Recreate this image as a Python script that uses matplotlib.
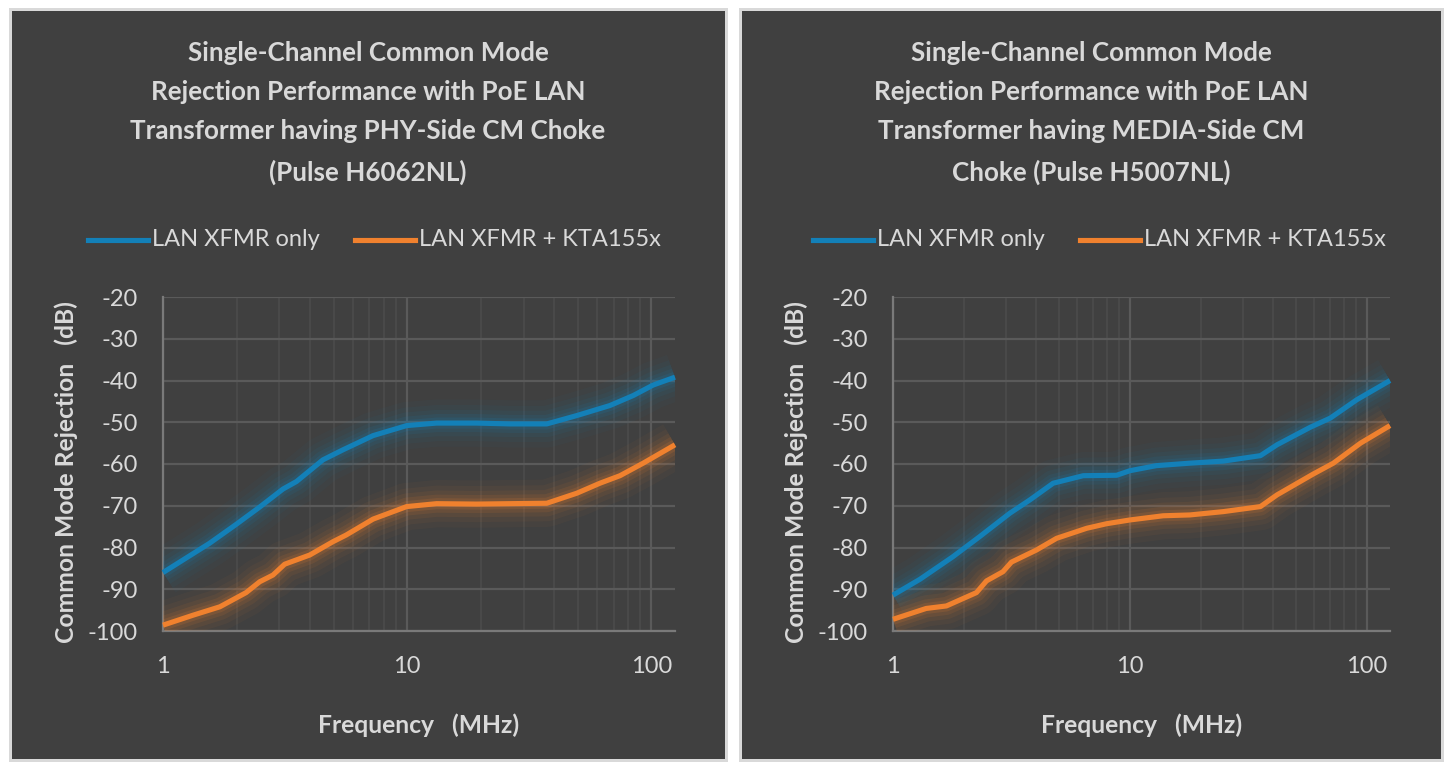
import matplotlib
matplotlib.use("Agg")
import matplotlib.pyplot as plt
from matplotlib.patches import Rectangle
from matplotlib.lines import Line2D
import numpy as np

# ---------------- data ----------------
left_title = "Single-Channel Common Mode\nRejection Performance with PoE LAN\nTransformer having PHY-Side CM Choke\n(Pulse H6062NL)"
right_title = "Single-Channel Common Mode\nRejection Performance with PoE LAN\nTransformer having MEDIA-Side CM\nChoke (Pulse H5007NL)"
series_names = ["LAN XFMR only", "LAN XFMR + KTA155x"]
x_label = "Frequency   (MHz)"
y_label = "Common Mode Rejection   (dB)"
y_ticks = [-100, -90, -80, -70, -60, -50, -40, -30, -20]
x_ticks = [1, 10, 100]

left_blue_f = [1.0, 1.55, 2.0, 2.49, 3.10, 3.52, 4.52, 5.46, 7.25, 9.95, 13.2, 19.2, 26.4, 37.3, 49.5, 67.6, 84.3, 101.6, 125]
left_blue_db = [-86.0, -79.0, -74.4, -70.3, -66.0, -64.2, -59.0, -56.6, -53.2, -50.8, -50.2, -50.2, -50.4, -50.4, -48.4, -46.0, -43.6, -41.1, -39.2]

left_orange_f = [1.0, 1.33, 1.71, 2.19, 2.49, 2.82, 3.15, 3.99, 4.97, 5.63, 7.25, 9.95, 13.2, 19.2, 26.4, 37.3, 49.5, 61.6, 74.4, 92.6, 125]
left_orange_db = [-98.6, -96.2, -94.2, -90.8, -88.2, -86.6, -84.0, -81.8, -78.6, -77.0, -73.2, -70.2, -69.5, -69.6, -69.5, -69.4, -67.0, -64.6, -62.8, -59.8, -55.4]

right_blue_f = [1.0, 1.30, 1.79, 2.32, 3.11, 3.78, 4.74, 6.35, 8.78, 10.0, 12.9, 17.9, 24.8, 35.5, 41.7, 57.6, 70.0, 90.6, 125]
right_blue_db = [-91.4, -87.6, -82.2, -77.4, -71.8, -68.6, -64.6, -62.8, -62.7, -61.6, -60.4, -59.8, -59.3, -58.0, -55.4, -51.2, -49.0, -44.6, -40.0]

right_orange_f = [1.0, 1.38, 1.68, 2.25, 2.48, 2.91, 3.16, 4.03, 4.90, 6.56, 7.97, 10.0, 13.8, 17.9, 24.8, 35.5, 41.7, 59.3, 72.1, 93.9, 125]
right_orange_db = [-97.2, -94.6, -94.0, -90.8, -88.0, -85.8, -83.5, -80.6, -77.8, -75.4, -74.3, -73.4, -72.4, -72.2, -71.4, -70.2, -67.4, -62.4, -59.8, -55.0, -50.8]

# ---------------- style ----------------
W, H = 1453, 771
BG = "#404040"
BORDER = "#d9d9d9"
TXT = "#d9d9d9"
GRID = "#5a5a5a"
MINOR = "#4b4b4b"
BLUE = "#1380b8"
ORANGE = "#f0812e"
FONT = ["Lato", "DejaVu Sans"]

plt.rcParams["font.family"] = FONT
fig = plt.figure(figsize=(W / 100, H / 100), dpi=100, facecolor="white")


def px_rect(x0, y0, x1, y1, color):
    fig.patches.append(Rectangle((x0 / W, 1 - y1 / H), (x1 - x0) / W, (y1 - y0) / H,
                                 transform=fig.transFigure, facecolor=color,
                                 edgecolor="none", zorder=-10))


# panels
px_rect(9, 8, 728, 762, BORDER)
px_rect(12, 11, 725, 759, BG)
px_rect(739, 8, 1444, 762, BORDER)
px_rect(742, 11, 1441, 759, BG)


def draw_glow(ax, f, db, color):
    for lw, a in [(34, 0.04), (26, 0.05), (19, 0.07), (13, 0.10), (8, 0.14)]:
        ax.plot(f, db, color=color, lw=lw, alpha=a, solid_capstyle="butt",
                solid_joinstyle="round", zorder=3, clip_on=True)
    ax.plot(f, db, color=color, lw=3.7, solid_capstyle="butt",
            solid_joinstyle="round", zorder=4, clip_on=False)


def make_panel(ax_px, title, title_cx, legend_x, bf, bdb, of, odb):
    x0, x1, y0, y1 = ax_px
    ax = fig.add_axes([x0 / W, 1 - y1 / H, (x1 - x0) / W, (y1 - y0) / H])
    ax.set_facecolor("none")
    ax.set_xscale("log")
    ax.set_xlim(1, 125)
    ax.set_ylim(-100, -20)
    ax.set_yticks(y_ticks)
    ax.set_yticklabels([str(v) for v in y_ticks])
    ax.set_xticks(x_ticks)
    ax.set_xticklabels([str(v) for v in x_ticks])
    ax.xaxis.set_minor_locator(matplotlib.ticker.LogLocator(base=10, subs=np.arange(2, 10)))
    ax.xaxis.set_minor_formatter(matplotlib.ticker.NullFormatter())
    ax.grid(True, which="major", axis="y", color=GRID, lw=1.6)
    ax.grid(True, which="major", axis="x", color=GRID, lw=1.6)
    ax.grid(True, which="minor", axis="x", color=MINOR, lw=1.2)
    ax.set_axisbelow(True)
    for s in ["top", "right"]:
        ax.spines[s].set_visible(False)
    for s in ["left", "bottom"]:
        ax.spines[s].set_color("#7a7a7a")
        ax.spines[s].set_linewidth(1.6)
    ax.tick_params(which="both", length=0, colors=TXT, labelsize=17)
    ax.tick_params(axis="x", pad=18)
    ax.tick_params(axis="y", pad=18)
    draw_glow(ax, bf, bdb, BLUE)
    draw_glow(ax, of, odb, ORANGE)

    # axis labels
    fig.text(((x0 + x1) / 2) / W, 1 - 725 / H, x_label, ha="center", va="center",
             color=TXT, fontsize=17.7, fontweight="bold")
    fig.text((x0 - 97) / W, 1 - 472 / H, y_label, ha="center", va="center",
             rotation=90, color=TXT, fontsize=17.7, fontweight="bold")
    # title
    fig.text(title_cx / W, 1 - 113 / H, title, ha="center", va="center",
             color=TXT, fontsize=18.7, fontweight="bold", linespacing=1.75)
    # legend
    ly = 1 - 240 / H
    for i, (name, col) in enumerate(zip(series_names, [BLUE, ORANGE])):
        sx = legend_x[i]
        fig.lines.append(Line2D([sx / W, (sx + 60) / W], [ly, ly],
                                transform=fig.transFigure, color=col, lw=3.7))
        fig.text((sx + 64) / W, ly, name, ha="left", va="center", color=TXT, fontsize=17)
    return ax


make_panel((163, 675, 297, 631), left_title, 368, [88, 355],
           left_blue_f, left_blue_db, left_orange_f, left_orange_db)
make_panel((893, 1390, 297, 631), right_title, 1091, [813, 1080],
           right_blue_f, right_blue_db, right_orange_f, right_orange_db)

fig.savefig("out.png", dpi=100, facecolor="white")
